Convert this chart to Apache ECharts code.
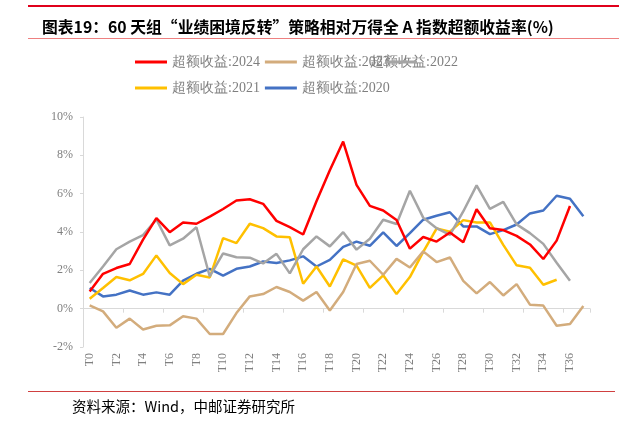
<!DOCTYPE html>
<html><head><meta charset="utf-8">
<script src="https://cdn.jsdelivr.net/npm/echarts@6/dist/echarts.min.js"></script>
<style>html,body{margin:0;padding:0;background:#fff}#c{width:627px;height:429px}</style>
</head><body><div id="c"></div>
<script>
const categories = ['T0','T1','T2','T3','T4','T5','T6','T7','T8','T9','T10','T11','T12','T13','T14','T15','T16','T17','T18','T19','T20','T21','T22','T23','T24','T25','T26','T27','T28','T29','T30','T31','T32','T33','T34','T35','T36','T37'];
const s2024 = [0.9,1.82,2.12,2.33,3.6,4.72,3.99,4.5,4.43,4.8,5.2,5.64,5.71,5.47,4.58,4.25,3.87,5.6,7.22,8.72,6.46,5.36,5.12,4.63,3.13,3.74,3.5,3.97,3.47,5.19,4.2,4.1,3.8,3.35,2.59,3.55,5.36,null];
const s2023 = [0.17,-0.14,-1.0,-0.52,-1.09,-0.89,-0.87,-0.4,-0.52,-1.32,-1.32,-0.23,0.64,0.76,1.13,0.87,0.42,0.87,-0.1,0.87,2.33,2.5,1.77,2.6,2.15,2.99,2.43,2.67,1.45,0.8,1.39,0.69,1.28,0.21,0.16,-0.89,-0.8,0.14];
const s2022 = [1.34,2.2,3.1,3.5,3.84,4.65,3.3,3.65,4.25,1.68,2.88,2.68,2.66,2.36,2.86,1.84,3.1,3.77,3.25,3.99,3.08,3.65,4.64,4.42,6.15,4.75,4.2,3.85,5.07,6.43,5.21,5.57,4.4,3.94,3.38,2.4,1.46,null];
const s2021 = [0.52,1.08,1.65,1.48,1.81,2.78,1.86,1.28,1.77,1.63,3.68,3.42,4.43,4.2,3.77,3.72,1.3,2.2,1.16,2.57,2.25,1.08,1.74,0.76,1.65,2.96,4.18,4.02,4.62,4.5,4.5,3.33,2.26,2.14,1.25,1.51,null,null];
const s2020 = [1.08,0.64,0.73,0.95,0.73,0.85,0.73,1.46,1.82,2.08,1.72,2.08,2.2,2.46,2.38,2.52,2.73,2.2,2.55,3.22,3.5,3.28,3.98,3.27,3.94,4.64,4.85,5.03,4.29,4.29,3.89,4.1,4.39,4.97,5.12,5.89,5.73,4.82];
const names = ['超额收益:2024','超额收益:2023','超额收益:2022','超额收益:2021','超额收益:2020'];
const colors = ['#FF0000','#D3AC7C','#A5A5A5','#FFC000','#4472C4'];
const seriesData = [s2024,s2023,s2022,s2021,s2020];

const chart = echarts.init(document.getElementById('c'));
const serif = '"Liberation Serif","Times New Roman",serif';
const legText = {color:'#7F7F7F',fontSize:14,fontFamily:serif};
const baseLeg = {orient:'horizontal',itemWidth:32,itemHeight:3,icon:'rect',itemGap:5,textStyle:legText,padding:0};
chart.setOption({
  animation:false,
  title:{text:'图表19：60 天组“业绩困境反转”策略相对万得全 A 指数超额收益率(%)',left:37,top:14,
    textStyle:{fontSize:15.8,fontWeight:'bold',color:'#000',fontFamily:'"Noto Sans CJK SC",sans-serif'}},
  graphic:[
    {type:'rect',shape:{x:28,y:5,width:591,height:2},style:{fill:'#E0001B'}},
    {type:'rect',shape:{x:28,y:38,width:591,height:1},style:{fill:'#EE8080'}},
    {type:'rect',shape:{x:28,y:391,width:587,height:1},style:{fill:'#D04040'}},
    {type:'text',left:72,top:399,style:{text:'资料来源：Wind，中邮证券研究所',fill:'#000',font:'14.5px "Noto Sans CJK SC",sans-serif'}}
  ],
  legend:[
    Object.assign({},baseLeg,{left:135,top:55,data:[names[0],names[1]]}),
    Object.assign({},baseLeg,{left:365,top:55,itemWidth:0,data:[names[2]]}),
    Object.assign({},baseLeg,{left:385,top:60.5,itemWidth:32,data:[names[2]],formatter:function(){return '';}}),
    Object.assign({},baseLeg,{left:135,top:81,data:[names[3],names[4]]})
  ],
  grid:{left:83,right:37,top:117,bottom:82},
  xAxis:[
    {type:'category',data:categories,boundaryGap:true,
     axisLine:{show:false,onZero:false},axisTick:{show:false},
     axisLabel:{interval:1,rotate:90,margin:6,color:'#7F7F7F',fontSize:12,fontFamily:serif}},
    {type:'category',data:categories,boundaryGap:true,position:'bottom',
     axisLine:{show:true,onZero:true,lineStyle:{color:'#D9D9D9',width:1}},
     axisTick:{show:true,length:4,lineStyle:{color:'#D9D9D9'}},axisLabel:{show:false}}
  ],
  yAxis:{type:'value',min:-2,max:10,interval:2,
    axisLine:{show:true,lineStyle:{color:'#D9D9D9'}},
    axisTick:{show:true,length:3,lineStyle:{color:'#D9D9D9'}},
    splitLine:{show:false},
    axisLabel:{formatter:'{value}%',color:'#7F7F7F',fontSize:12,fontFamily:serif,margin:10}},
  series:seriesData.map((d,i)=>({
    name:names[i],type:'line',data:d,xAxisIndex:0,symbol:'none',showSymbol:false,
    lineStyle:{color:colors[i],width:2.5},itemStyle:{color:colors[i]},z:10-i
  }))
});
</script></body></html>
